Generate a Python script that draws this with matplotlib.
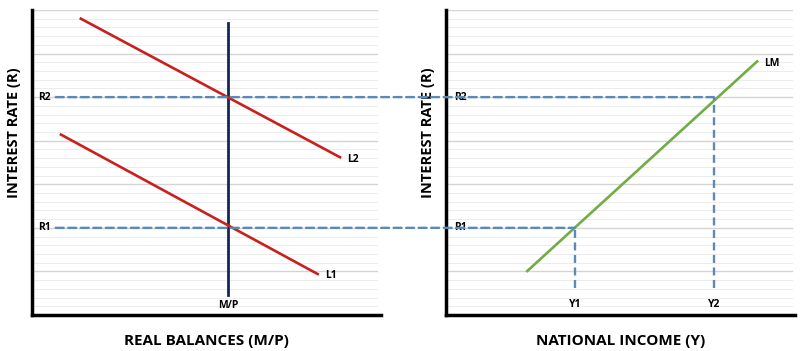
import matplotlib
matplotlib.use("Agg")
from matplotlib import pyplot as plt
from matplotlib.patches import ConnectionPatch
import numpy as np

# --------------------------------  Data  ------------------------------------
# left panel: money demand curves L1, L2 and money supply M/P
l1_x = [0.83, 8.19]
l1_y = [4.14, 0.94]
l2_x = [1.40, 8.83]
l2_y = [6.80, 3.62]
mp_x = 5.62
mp_y = [0.46, 6.70]

# right panel: LM curve
lm_x = [2.32, 8.91]
lm_y = [1.01, 5.82]

r_levels = [2.0, 5.0]           # R1, R2
r_labels = ["R1", "R2"]
y_levels = [3.68, 7.67]         # Y1, Y2
y_labels = ["Y1", "Y2"]

RED = "#c8201e"
NAVY = "#16265a"
GREEN = "#70ad47"
DASH = "#5b8ab8"
FONT = "Open Sans"

plt.rcParams["font.family"] = [FONT, "DejaVu Sans"]

fig = plt.figure(figsize=(8, 3.51), dpi=100)
ax1 = fig.add_axes([0.040, 0.1026, 0.436, 0.869])
ax2 = fig.add_axes([0.558, 0.1026, 0.436, 0.869])


def setup(ax):
    ax.set_xlim(0, 10)
    ax.set_ylim(0, 7)
    for y in np.arange(0.2, 7.01, 0.2):
        major = abs(y - round(y)) < 1e-6
        ax.axhline(y, xmax=0.99, color="#d4d4d4" if major else "#ececec",
                   lw=1.0 if major else 0.7, zorder=0)
    for s in ["top", "right"]:
        ax.spines[s].set_visible(False)
    for s in ["left", "bottom"]:
        ax.spines[s].set_linewidth(2.5)
        ax.spines[s].set_color("black")
    ax.set_xticks([])
    ax.set_yticks([])
    ax.text(-0.52, 4.19, "INTEREST RATE (R)", rotation=90, ha="center",
            va="center", fontsize=10.5, fontweight="bold")


setup(ax1)
setup(ax2)

ax1.set_xlabel("REAL BALANCES (M/P)", fontsize=11, fontweight="bold",
               labelpad=14)
ax2.set_xlabel("NATIONAL INCOME (Y)", fontsize=11, fontweight="bold",
               labelpad=14)

SMALL = 7.5

# left panel curves
ax1.plot(l1_x, l1_y, color=RED, lw=1.9, zorder=3)
ax1.plot(l2_x, l2_y, color=RED, lw=1.9, zorder=3)
ax1.plot([mp_x, mp_x], mp_y, color=NAVY, lw=2.0, zorder=2)
ax1.text(l1_x[1] + 0.2, l1_y[1] - 0.03, "L1", fontsize=SMALL,
         fontweight="bold", va="center")
ax1.text(l2_x[1] + 0.2, l2_y[1] - 0.05, "L2", fontsize=SMALL,
         fontweight="bold", va="center")
ax1.text(mp_x, 0.22, "M/P", fontsize=SMALL, fontweight="bold", ha="center",
         va="center")

# right panel curve
ax2.plot(lm_x, lm_y, color=GREEN, lw=1.9, zorder=3)
ax2.text(lm_x[1] + 0.2, lm_y[1] - 0.05, "LM", fontsize=SMALL,
         fontweight="bold", va="center")

dash = (0, (3.4, 1.9))
for r, lab, yv in zip(r_levels, r_labels, y_levels):
    ax1.text(0.37, r, lab, fontsize=SMALL, fontweight="bold", ha="center",
             va="center")
    ax2.text(0.40, r, lab, fontsize=SMALL, fontweight="bold", ha="center",
             va="center", zorder=5)
    con = ConnectionPatch(xyA=(0.68, r), coordsA=ax1.transData,
                          xyB=(yv, r), coordsB=ax2.transData,
                          color=DASH, lw=1.7, linestyle=dash, zorder=4)
    fig.add_artist(con)

for yv, lab, r in zip(y_levels, y_labels, r_levels):
    ax2.plot([yv, yv], [0.62, r], color=DASH, lw=1.7, linestyle=dash,
             zorder=4)
    ax2.text(yv, 0.24, lab, fontsize=SMALL, fontweight="bold", ha="center",
             va="center")

fig.savefig("out.png", dpi=100)
